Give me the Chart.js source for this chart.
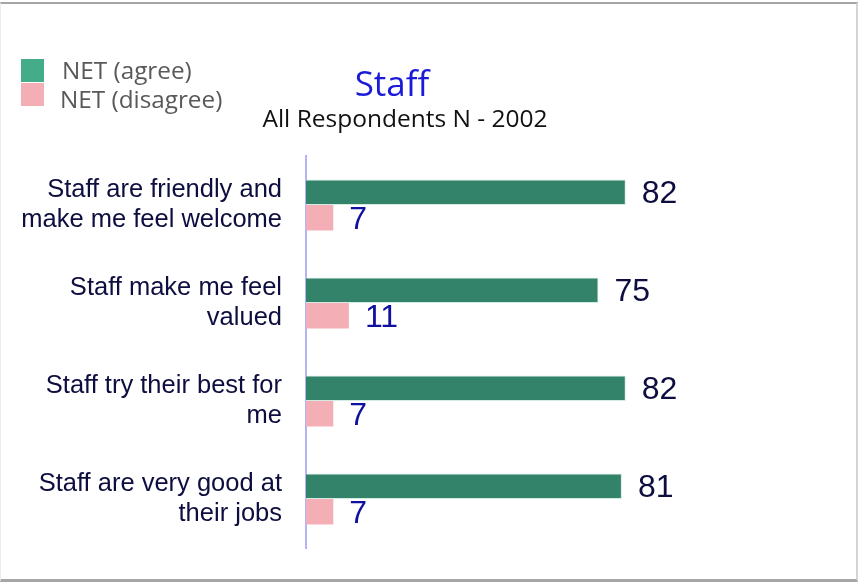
<!DOCTYPE html>
<html lang="en">
<head>
    <meta charset="UTF-8">
    <title>Staff</title>
    <script src="https://cdn.jsdelivr.net/npm/chart.js"></script>
    <style>
        body {
            margin: 0;
            background: #ffffff;
        }
        .frame {
            position: absolute;
            left: 0;
            top: 0;
            width: 858px;
            height: 585px;
        }
        .frame::before {
            content: '';
            position: absolute;
            left: 0;
            top: 2px;
            width: 855px;
            height: 575px;
            border-top: 2px solid #a6a6a6;
            border-bottom: 3px solid #a6a6a6;
            border-left: 1px solid #ececec;
            border-right: 2px solid #d4d4d4;
            pointer-events: none;
        }
        #staffChart {
            position: absolute;
            left: 0;
            top: 0;
        }
    </style>
</head>
<body>
    <div class="frame">
        <canvas id="staffChart" width="858" height="585"></canvas>
    </div>

    <script>
        // Survey statements and NET scores (%)
        const statements = [
            ['Staff are friendly and', 'make me feel welcome'],
            ['Staff make me feel', 'valued'],
            ['Staff try their best for', 'me'],
            ['Staff are very good at', 'their jobs']
        ];
        const netAgree = [82, 75, 82, 81];
        const netDisagree = [7, 11, 7, 7];

        const chartTitle = 'Staff';
        const chartSubtitle = 'All Respondents N - 2002';

        // Value labels at the end of each bar
        const valueLabels = {
            id: 'valueLabels',
            afterDatasetsDraw(chart) {
                const ctx = chart.ctx;
                ctx.save();
                ctx.font = '32px "Liberation Sans", Arial, sans-serif';
                ctx.textAlign = 'left';
                ctx.textBaseline = 'middle';
                chart.data.datasets.forEach((ds, i) => {
                    ctx.fillStyle = ds.labelColor;
                    chart.getDatasetMeta(i).data.forEach((bar, j) => {
                        ctx.fillText(ds.data[j], bar.x + 16, bar.y + 2);
                    });
                });
                ctx.restore();
            }
        };

        // Title block and legend in the top-left corner
        const headerBlock = {
            id: 'headerBlock',
            afterDraw(chart) {
                const ctx = chart.ctx;
                ctx.save();
                ctx.textBaseline = 'middle';
                ctx.textAlign = 'center';
                ctx.fillStyle = '#1a1ad8';
                ctx.font = '35px "Open Sans", sans-serif';
                ctx.fillText(chartTitle, 392, 86);
                ctx.fillStyle = '#111111';
                ctx.font = '24.5px "Open Sans", sans-serif';
                ctx.fillText(chartSubtitle, 405, 120);

                ctx.textAlign = 'left';
                ctx.font = '24.3px "Open Sans", sans-serif';
                const rows = [{ y: 59, tx: 62, ty: 72 }, { y: 83, tx: 60, ty: 101 }];
                chart.data.datasets.forEach((ds, i) => {
                    ctx.fillStyle = ds.legendColor;
                    ctx.fillRect(21, rows[i].y, 23, 23);
                    ctx.fillStyle = '#595959';
                    ctx.fillText(ds.label, rows[i].tx, rows[i].ty);
                });
                ctx.restore();
            }
        };

        new Chart(document.getElementById('staffChart'), {
            type: 'bar',
            data: {
                labels: statements,
                datasets: [{
                    label: 'NET (agree)',
                    data: netAgree,
                    backgroundColor: '#33826a',
                    borderColor: '#d4ebe2',
                    borderWidth: 1,
                    legendColor: '#45ac8a',
                    labelColor: '#0d0d3f'
                }, {
                    label: 'NET (disagree)',
                    data: netDisagree,
                    backgroundColor: '#f4aeb5',
                    borderColor: '#f4aeb5',
                    borderWidth: 0,
                    legendColor: '#f4aeb5',
                    labelColor: '#1010a0'
                }]
            },
            options: {
                indexAxis: 'y',
                responsive: false,
                animation: false,
                devicePixelRatio: 1,
                categoryPercentage: 0.52,
                barPercentage: 1.0,
                layout: {
                    padding: { top: 156, bottom: 37, left: 0, right: 162 }
                },
                plugins: {
                    legend: { display: false },
                    title: { display: false },
                    tooltip: { enabled: false }
                },
                scales: {
                    x: {
                        display: false,
                        min: 0,
                        max: 100
                    },
                    y: {
                        afterFit(scale) {
                            scale.width = 306;
                            scale.paddingTop = 0;
                            scale.paddingBottom = 0;
                        },
                        grid: { display: false, drawTicks: false },
                        border: { display: true, color: '#b4b4f4', width: 2 },
                        ticks: {
                            padding: 24,
                            color: '#0d0d3f',
                            font: { family: '"Liberation Sans", Arial, sans-serif', size: 25.5, lineHeight: 1.17 }
                        }
                    }
                }
            },
            plugins: [valueLabels, headerBlock]
        });
    </script>
</body>
</html>
